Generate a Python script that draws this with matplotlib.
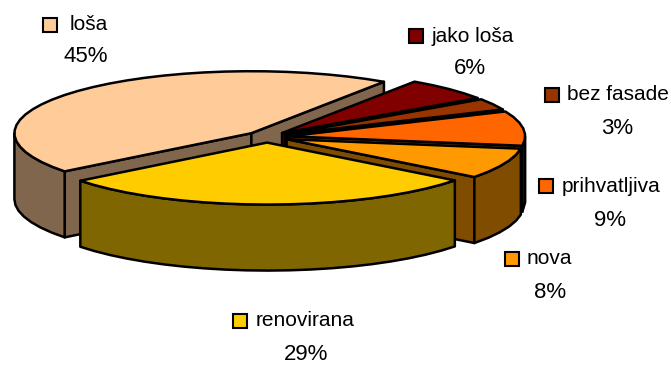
"""
Stanje fasada: exploded 3D pie with a label and key beside each slice
"""
import matplotlib
matplotlib.use('Agg')
import matplotlib.pyplot as plt
from matplotlib.patches import Polygon, Rectangle
import numpy as np

categories = ["loša", "jako loša", "bez fasade", "prihvatljiva", "nova", "renovirana"]
values = [45, 6, 3, 9, 8, 29]
colors = ['#FFCC99', '#800000', '#993300', '#FF6600', '#FF9900', '#FFCC00']

START_ANGLE = 232.0  # clockwise from twelve o'clock
CX, CY = 267.0, 137.0
RX, RY = 237.0, 62.0
DEPTH = 66.0
EXPLODE = 0.09
ARC_STEP = 5.0

# key x, key y, text x, percent label centre x, percent label y (pixels)
LABEL_POS = [
    (43, 25, 70, 86, 57),
    (409, 36, 432, 470, 69),
    (545, 95, 567, 617, 129),
    (539, 186, 562, 610, 220),
    (505, 259, 527, 550, 293),
    (233, 321, 256, 306, 355),
]

plt.rcParams['font.family'] = ['Liberation Sans', 'DejaVu Sans']


def darken(color):
    rgb = np.array(matplotlib.colors.to_rgb(color))
    return tuple(rgb * 0.5)


def arc(ax_x, ax_y, t0, t1):
    n = max(2, int(abs(t1 - t0) / ARC_STEP) + 1)
    t = np.radians(np.linspace(t0, t1, n))
    return np.column_stack([ax_x + RX * np.sin(t), ax_y - RY * np.cos(t)])


def poly(ax, pts, face, z):
    ax.add_patch(Polygon(pts, closed=True, facecolor=face, edgecolor='black',
                         linewidth=1.8, joinstyle='round', zorder=z))


def draw_slice(ax, t0, t1, color, z):
    mid = np.radians((t0 + t1) / 2)
    ax_x = CX + EXPLODE * RX * np.sin(mid)
    ax_y = CY - EXPLODE * RY * np.cos(mid)
    apex = np.array([ax_x, ax_y])
    down = np.array([0, DEPTH])
    side = darken(color)

    # cut faces, only the ones turned towards the viewer
    for t, visible in ((t0, np.sin(np.radians(t0)) < 0), (t1, np.sin(np.radians(t1)) > 0)):
        if visible:
            rim = arc(ax_x, ax_y, t, t)[0]
            poly(ax, [apex, rim, rim + down, apex + down], side, z)

    # outer wall on the front half of the ellipse
    for shift in (0, 360):
        w0 = max(t0, 90 + shift)
        w1 = min(t1, 270 + shift)
        if w1 > w0:
            top = arc(ax_x, ax_y, w0, w1)
            poly(ax, np.vstack([top, (top + down)[::-1]]), side, z)

    top = arc(ax_x, ax_y, t0, t1)
    poly(ax, np.vstack([apex, top]), color, z)


def main():
    fig = plt.figure(figsize=(6.71, 3.65), dpi=100)
    ax = fig.add_axes([0, 0, 1, 1])
    ax.set_xlim(0, 671)
    ax.set_ylim(365, 0)
    ax.axis('off')

    spans = np.array(values) / sum(values) * 360
    starts = START_ANGLE + np.concatenate([[0], np.cumsum(spans)[:-1]])

    for i, (t0, span, color) in enumerate(zip(starts, spans, colors)):
        draw_slice(ax, t0, t0 + span, color, 2 + i)

    for name, val, color, pos in zip(categories, values, colors, LABEL_POS):
        kx, ky, tx, px, py = pos
        ax.add_patch(Rectangle((kx, ky - 7), 14, 14, facecolor=color,
                               edgecolor='black', linewidth=1.5, zorder=20))
        ax.text(tx, ky, name, fontsize=15, ha='left', va='center', zorder=20)
        ax.text(px, py, f'{val}%', fontsize=16, ha='center', va='center', zorder=20)

    fig.savefig('out.png', dpi=100)
    plt.close(fig)


if __name__ == "__main__":
    main()
